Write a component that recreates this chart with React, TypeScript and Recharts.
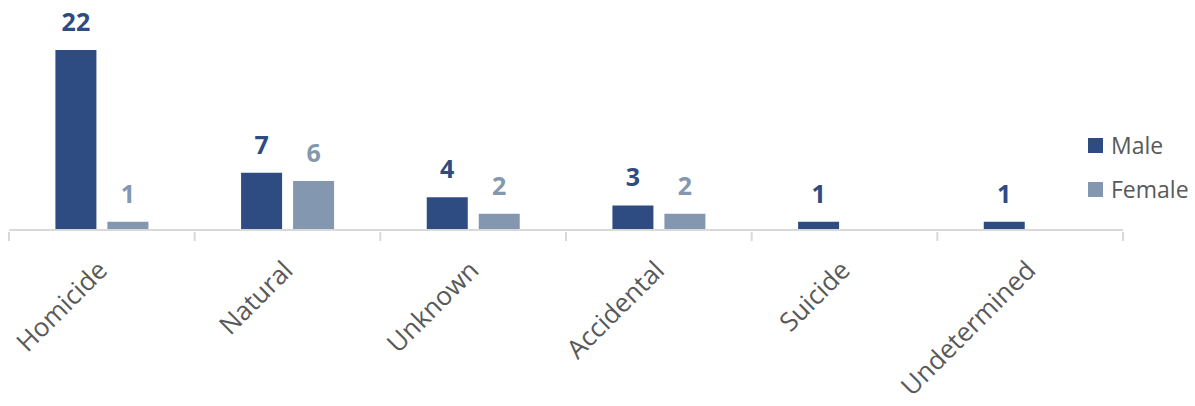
import React from 'react';
import { BarChart, Bar, XAxis, YAxis, Legend, LabelList } from 'recharts';

const causes = ['Homicide', 'Natural', 'Unknown', 'Accidental', 'Suicide', 'Undetermined'];
const male = [22, 7, 4, 3, 1, 1];
const female: (number | null)[] = [1, 6, 2, 2, null, null];

const data = causes.map((c, i) => ({ cause: c, Male: male[i], Female: female[i] }));

const MALE = '#2e4b82';
const FEMALE = '#8497b0';
const FONT = '"Open Sans", sans-serif';

// tick marks sit on the category boundaries, like Excel does
function AngledTick({ x, y, payload, index, visibleTicksCount }: any) {
  const half = payload.offset || 0;
  const top = y - 9;
  const last = index === visibleTicksCount - 1;
  return (
    <g>
      <line x1={x - half} x2={x - half} y1={top} y2={top + 9} stroke="#d9d9d9" strokeWidth={2} />
      {last && <line x1={x + half} x2={x + half} y1={top} y2={top + 9} stroke="#d9d9d9" strokeWidth={2} />}
      <text
        x={x + 7}
        y={y + 31}
        transform={`rotate(-45 ${x + 7} ${y + 31})`}
        textAnchor="end"
        fill="#595959"
        fontSize={26}
        fontFamily={FONT}
      >
        {payload.value}
      </text>
    </g>
  );
}

function valueLabel(color: string) {
  return (props: any) => {
    const { x, y, width, value } = props;
    if (value == null) return null;
    return (
      <text x={x + width / 2} y={y - 19} textAnchor="middle" fill={color}
        fontSize={25} fontWeight="bold" fontFamily={FONT}>
        {value}
      </text>
    );
  };
}

function LegendBox() {
  const items = [['Male', MALE], ['Female', FEMALE]];
  return (
    <div style={{ fontFamily: FONT, fontSize: 23, color: '#595959' }}>
      {items.map(([name, color]) => (
        <div key={name} style={{ display: 'flex', alignItems: 'center', height: 44 }}>
          <span style={{ width: 15, height: 15, background: color, marginRight: 8, display: 'inline-block' }} />
          {name}
        </div>
      ))}
    </div>
  );
}

export default function App() {
  return (
    <div style={{ position: 'absolute', left: 0, top: 0, background: '#fff' }}>
      <BarChart width={1195} height={406} data={data}
        margin={{ top: 50, right: 72, left: 9, bottom: 5 }}
        barCategoryGap="25%" barGap={11}>
        <XAxis dataKey="cause" stroke="#d9d9d9" strokeWidth={2} tickSize={9} tickLine={false}
          tick={<AngledTick />} interval={0} height={171} />
        <YAxis hide domain={[0, 22]} />
        <Legend layout="horizontal" verticalAlign="middle" align="center"
          content={<LegendBox />}
          wrapperStyle={{ position: 'absolute', left: 1088, top: 123, width: 110 }} />
        <Bar dataKey="Male" fill={MALE} isAnimationActive={false}>
          <LabelList dataKey="Male" content={valueLabel(MALE)} />
        </Bar>
        <Bar dataKey="Female" fill={FEMALE} isAnimationActive={false}>
          <LabelList dataKey="Female" content={valueLabel(FEMALE)} />
        </Bar>
      </BarChart>
    </div>
  );
}
